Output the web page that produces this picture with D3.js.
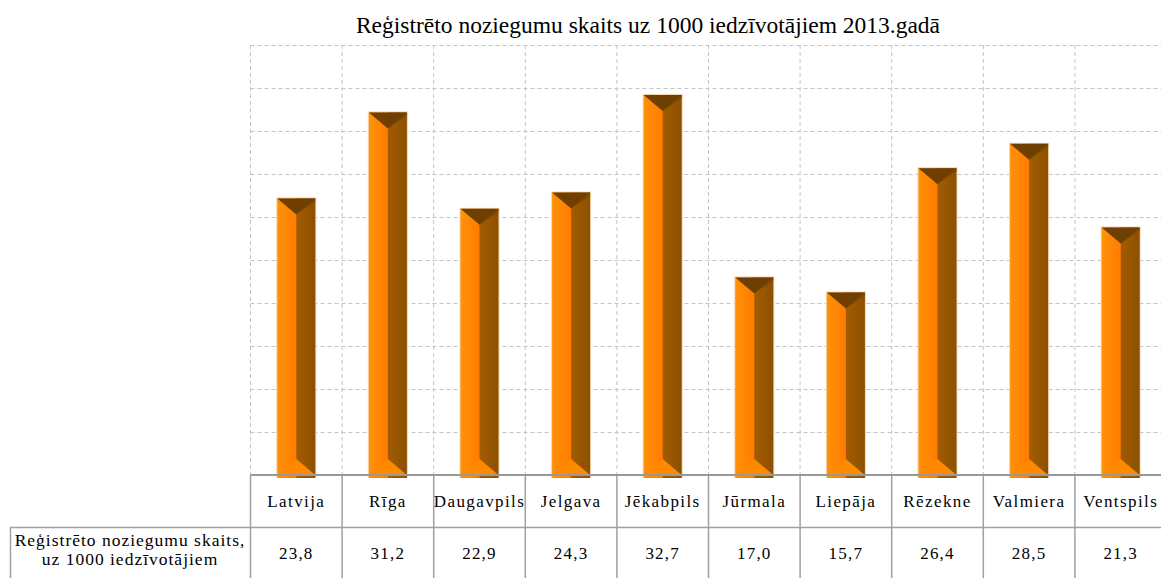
<!DOCTYPE html>
<html>
<head>
<meta charset="utf-8">
<script src="https://cdnjs.cloudflare.com/ajax/libs/d3/7.8.5/d3.min.js"></script>
<style>
  body { margin: 0; background: #fff; }
  svg { display: block; }
  svg text { font-family: "Liberation Serif", "Times New Roman", serif; fill: #000; }
</style>
</head>
<body>
<svg id="chart" width="1161" height="578"></svg>
<script>
// data
const title = 'Reģistrēto noziegumu skaits uz 1000 iedzīvotājiem 2013.gadā';
const categories = ['Latvija', 'Rīga', 'Daugavpils', 'Jelgava', 'Jēkabpils', 'Jūrmala', 'Liepāja', 'Rēzekne', 'Valmiera', 'Ventspils'];
const values = [23.8, 31.2, 22.9, 24.3, 32.7, 17.0, 15.7, 26.4, 28.5, 21.3];
const rowLabel = ['Reģistrēto noziegumu skaits,', 'uz 1000 iedzīvotājiem'];
const yMax = 37;
const gridSteps = 10;

const svg = d3.select('#chart');
const margin = { top: 45, left: 250.5, bottom: 475 };
const plotRight = 1166.5; // chart runs a bit past the window edge

const x = d3.scaleBand().domain(categories).range([margin.left, plotRight]).paddingInner(0).paddingOuter(0);
const y = d3.scaleLinear().domain([0, yMax]).range([margin.bottom, margin.top]);

// gradients for the bevelled bars
const defs = svg.append('defs');
const gLeft = defs.append('linearGradient').attr('id', 'faceLeft');
gLeft.append('stop').attr('offset', '0%').attr('stop-color', '#ff9208');
gLeft.append('stop').attr('offset', '100%').attr('stop-color', '#ff7a00');
const gRight = defs.append('linearGradient').attr('id', 'faceRight');
gRight.append('stop').attr('offset', '0%').attr('stop-color', '#a35c00');
gRight.append('stop').attr('offset', '100%').attr('stop-color', '#8c5000');

// grid
const gridVals = d3.range(gridSteps + 1).map(i => yMax * i / gridSteps);
svg.append('g')
  .selectAll('line')
  .data(gridVals.slice(1))
  .join('line')
  .attr('x1', margin.left).attr('x2', plotRight)
  .attr('y1', d => Math.round(y(d)) + 0.5).attr('y2', d => Math.round(y(d)) + 0.5)
  .attr('stroke', '#c4c4c4').attr('stroke-dasharray', '4,3');

svg.append('g')
  .selectAll('line')
  .data(categories)
  .join('line')
  .attr('x1', d => x(d)).attr('x2', d => x(d))
  .attr('y1', margin.top).attr('y2', margin.bottom)
  .attr('stroke', '#c4c4c4').attr('stroke-dasharray', '4,3');

// bars
const barW = x.bandwidth() * 0.415;
const bev = 16;
const bars = svg.append('g')
  .selectAll('g')
  .data(categories.map((c, i) => ({ c, v: values[i] })))
  .join('g')
  .attr('transform', d => `translate(${x(d.c) + x.bandwidth() / 2 - barW / 2},0)`);

bars.append('rect')
  .attr('x', -1).attr('y', d => y(d.v) - 1)
  .attr('width', barW + 2).attr('height', d => y(0) - y(d.v) + 4)
  .attr('fill', '#f6d6b0');
bars.append('rect')
  .attr('x', 0).attr('y', d => y(d.v))
  .attr('width', barW / 2 + 1).attr('height', d => y(0) - y(d.v) + 3)
  .attr('fill', 'url(#faceLeft)');
bars.append('rect')
  .attr('x', barW / 2).attr('y', d => y(d.v))
  .attr('width', barW / 2).attr('height', d => y(0) - y(d.v) + 3)
  .attr('fill', 'url(#faceRight)');
// bottom bevel
bars.append('path')
  .attr('d', d => `M0,${y(0)} L${barW / 2},${y(0) - bev} L${barW},${y(0)} Z`)
  .attr('fill', '#ff8a00');
// top bevel
bars.append('path')
  .attr('d', d => `M0,${y(d.v)} L${barW},${y(d.v)} L${barW / 2},${y(d.v) + bev} Z`)
  .attr('fill', '#6e3f00');
bars.append('path')
  .attr('d', d => `M${barW / 2},${y(d.v) + bev} L${barW},${y(d.v)} L${barW},${y(d.v) + 3} Z`)
  .attr('fill', '#7d4800');

// data table under the plot
const rowTop = margin.bottom;
const rowMid = 527;
const rowBottom = 590;
const table = svg.append('g').attr('stroke', '#a0a0a0');

table.append('line')
  .attr('x1', 10).attr('x2', 1161).attr('y1', rowMid + 0.5).attr('y2', rowMid + 0.5)
  .attr('stroke-width', 1.5);
table.append('line')
  .attr('x1', 10.5).attr('x2', 10.5).attr('y1', rowMid).attr('y2', rowBottom)
  .attr('stroke-width', 1.5);
table.selectAll('.vcell')
  .data(categories.concat(['end']))
  .join('line')
  .attr('x1', (d, i) => margin.left + i * x.step())
  .attr('x2', (d, i) => margin.left + i * x.step())
  .attr('y1', rowTop).attr('y2', rowBottom)
  .attr('stroke-width', 1.5);
table.append('line')
  .attr('x1', margin.left).attr('x2', 1161).attr('y1', rowTop).attr('y2', rowTop)
  .attr('stroke', '#999').attr('stroke-width', 2);

const fmt = v => d3.format('.1f')(v).replace('.', ',');

svg.append('g')
  .selectAll('text')
  .data(categories)
  .join('text')
  .attr('x', d => x(d) + x.bandwidth() / 2)
  .attr('y', 507)
  .attr('text-anchor', 'middle')
  .attr('font-size', 17)
  .attr('letter-spacing', 1.4)
  .text(d => d);

svg.append('g')
  .selectAll('text')
  .data(values)
  .join('text')
  .attr('x', (d, i) => x(categories[i]) + x.bandwidth() / 2)
  .attr('y', 559)
  .attr('text-anchor', 'middle')
  .attr('font-size', 17)
  .attr('letter-spacing', 1.2)
  .text(d => fmt(d));

svg.append('g')
  .selectAll('text')
  .data(rowLabel)
  .join('text')
  .attr('x', 130)
  .attr('y', (d, i) => 546 + i * 19)
  .attr('text-anchor', 'middle')
  .attr('font-size', 17.5)
  .attr('letter-spacing', 1)
  .text(d => d);

svg.append('text')
  .attr('x', 648)
  .attr('y', 33)
  .attr('text-anchor', 'middle')
  .attr('font-size', 23.5)
  .text(title);
</script>
</body>
</html>
